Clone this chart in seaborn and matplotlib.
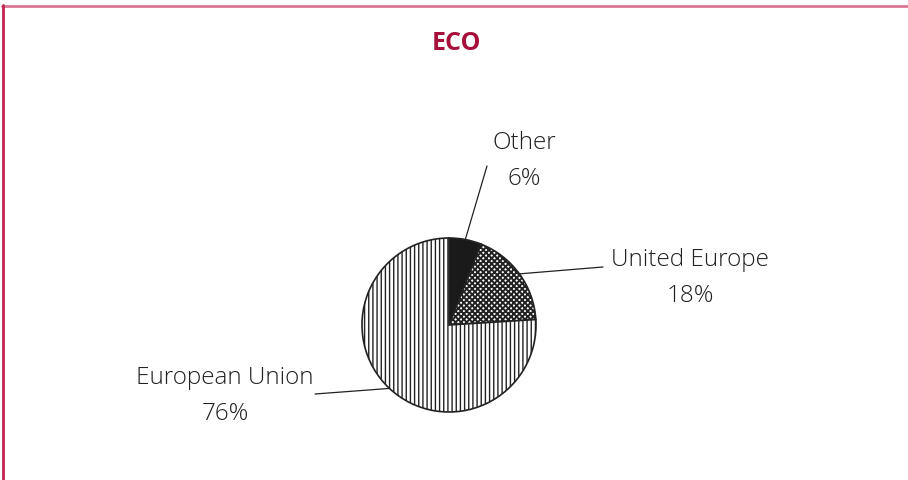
import matplotlib
matplotlib.use("Agg")
import matplotlib.pyplot as plt
import seaborn as sns
import numpy as np
from matplotlib.lines import Line2D

sns.set_theme(style="white")
plt.rcParams['font.family'] = ['Open Sans', 'DejaVu Sans']
plt.rcParams['hatch.linewidth'] = 1.0

title = "ECO"
categories = ["Other", "United Europe", "European Union"]
values = [6, 18, 76]
value_labels = ["6%", "18%", "76%"]

W, H = 908, 481
fig = plt.figure(figsize=(W / 100, H / 100), dpi=100)
ax = fig.add_axes([0, 0, 1, 1])
ax.set_xlim(0, W)
ax.set_ylim(0, H)
ax.set_aspect('equal')
ax.axis('off')

cx, cy, r = 449, H - 326, 87
colors = ["#1a1a1a", "white", "white"]
hatches = [None, "xxxxxx", "||||"]
wedges, _ = ax.pie(values, startangle=90, counterclock=False, center=(cx, cy),
                   radius=r, colors=colors, frame=True,
                   wedgeprops=dict(edgecolor="#222222", linewidth=1.2))
for w, h in zip(wedges, hatches):
    if h:
        w.set_hatch(h)
if hasattr(wedges[1], "set_hatch_linewidth"):
    wedges[1].set_hatch_linewidth(1.4)
ax.set_xlim(0, W)
ax.set_ylim(0, H)
ax.axis('off')

label_pos = [(524, 161, 487, 167), (690, 278, 603, 268), (225, 396, 315, 395)]
for w, cat, vl, (tx, ty, lx, ly) in zip(wedges, categories, value_labels, label_pos):
    mid = np.deg2rad((w.theta1 + w.theta2) / 2)
    px, py = cx + r * np.cos(mid), cy + r * np.sin(mid)
    ax.plot([px, lx], [py, H - ly], color="#222222", lw=0.9)
    ax.text(tx, H - ty, f"{cat}\n{vl}", ha="center", va="center", fontsize=17.5,
            color="#222222", linespacing=1.65, fontweight="light")

fig.text(456 / W, 1 - 44 / H, title, ha="center", va="center", fontsize=18,
         fontweight="bold", color="#a8103c")

fig.add_artist(Line2D([2 / W, 1], [1 - 7 / H, 1 - 7 / H], transform=fig.transFigure,
                      color="#dc7594", lw=2))
fig.add_artist(Line2D([2.5 / W, 2.5 / W], [0, 1 - 6 / H], transform=fig.transFigure,
                      color="#c42650", lw=2))

fig.savefig("out.png", dpi=100)
